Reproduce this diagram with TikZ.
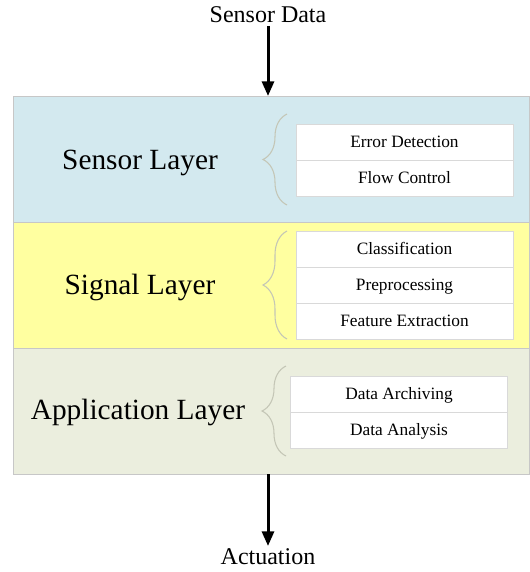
\documentclass[tikz,border=0pt]{standalone}
\usepackage{fontspec}
\setmainfont{Liberation Serif}
\usetikzlibrary{arrows.meta, decorations.pathreplacing}
\definecolor{sensorblue}{RGB}{211,233,239}
\definecolor{signalyellow}{RGB}{255,255,160}
\definecolor{appgreen}{RGB}{235,238,222}
\definecolor{bracegray}{RGB}{196,198,182}

\begin{document}
\begin{tikzpicture}[
    x=0.75pt, y=-0.75pt,
    layer/.style={draw=black!22, inner sep=0pt, outer sep=0pt, minimum width=387pt, minimum height=94.5pt},
    layerlabel/.style={font=\fontsize{22}{26}\selectfont, text height=1.5ex, text depth=.25ex},
    task/.style={draw=black!15, fill=white, inner sep=0pt, outer sep=0pt, minimum width=162.75pt, minimum height=27pt, text height=2ex, text depth=.3ex, font=\fontsize{13}{15}\selectfont},
    ioLabel/.style={font=\fontsize{18}{21}\selectfont, inner sep=2pt},
    flow/.style={line width=2.25pt, -{Triangle[length=11pt, width=9pt]}},
    bracket/.style={draw=bracegray, line width=0.8pt, decorate, decoration={brace, amplitude=18pt}}
]
   \useasboundingbox (0,0) rectangle (530,572);

   % Layers
   \node[layer, fill=sensorblue] (sensor) at (271,159) {};
   \node[layer, fill=signalyellow] (signal) at (271,285) {};
   \node[layer, fill=appgreen] (app) at (271,411) {};

   \node[layerlabel] (sensorlbl) at (140,166) {Sensor Layer};
   \node[layerlabel] (signallbl) at (140,291) {Signal Layer};
   \node[layerlabel] (applbl) at (138,416) {Application Layer};

   % Tasks of each layer
   \node[task] (err) at (404.5,142) {Error Detection};
   \node[task] (flw) at (404.5,178) {Flow Control};

   \node[task] (cls) at (404.5,249) {Classification};
   \node[task] (pre) at (404.5,285) {Preprocessing};
   \node[task] (feat) at (404.5,321) {Feature Extraction};

   \node[task] (arch) at (399,394) {Data Archiving};
   \node[task] (ana) at (399,430) {Data Analysis};

   % Braces
   \draw[bracket] (287,205) -- (287,114);
   \draw[bracket] (287,339) -- (287,231);
   \draw[bracket] (286,456) -- (286,366);

   % Input and output
   \node[ioLabel] (sdata) at (268,15) {Sensor Data};
   \node[ioLabel] (act) at (268,557) {Actuation};

   \draw[flow] (sdata) -- (sensor.north -| sdata);
   \draw[flow] (app.south -| act) -- (act);
\end{tikzpicture}
\end{document}
